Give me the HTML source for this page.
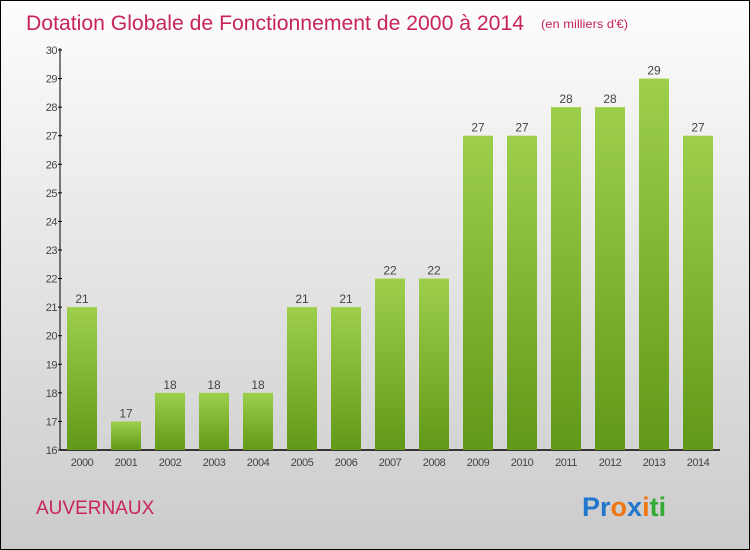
<!DOCTYPE html>
<html><head><meta charset="utf-8"><style>
body{margin:0}
svg{display:block;font-family:"Liberation Sans",sans-serif}
</style></head><body>
<svg width="750" height="550" viewBox="0 0 750 550">
<defs>
<linearGradient id="bg" x1="0" y1="0" x2="0" y2="1"><stop offset="0" stop-color="#fdfdfd"/><stop offset="1" stop-color="#cbcbcb"/></linearGradient>
<linearGradient id="bar" x1="0" y1="0" x2="0" y2="1"><stop offset="0" stop-color="#9dcf4b"/><stop offset="1" stop-color="#629818"/></linearGradient>
</defs>
<rect x="0.5" y="0.5" width="749" height="549" fill="url(#bg)" stroke="#000"/>
<text x="26" y="30" font-size="21" fill="#c8245a" textLength="498" lengthAdjust="spacingAndGlyphs">Dotation Globale de Fonctionnement de 2000 à 2014</text>
<text x="541" y="28" font-size="12" fill="#c8245a" textLength="87" lengthAdjust="spacingAndGlyphs">(en milliers d'€)</text>
<g id="axes"></g>
<g id="bars"></g>
<text x="36" y="514" font-size="19" fill="#c8245a">AUVERNAUX</text>
<text x="582" y="516" font-size="27" font-weight="bold"><tspan fill="#2277cc">Pr</tspan><tspan fill="#ee7711">o</tspan><tspan fill="#2277cc">x</tspan><tspan fill="#ee7711">i</tspan><tspan fill="#33aa33">ti</tspan></text>
</svg>
<script>
const years=["2000","2001","2002","2003","2004","2005","2006","2007","2008","2009","2010","2011","2012","2013","2014"];
const values=[21,17,18,18,18,21,21,22,22,27,27,28,28,29,27];
const yTicks=[16,17,18,19,20,21,22,23,24,25,26,27,28,29,30];
const NS="http://www.w3.org/2000/svg";
const y0=450,y1=50,vMin=16,vMax=30;
const yS=v=>y0-(v-vMin)/(vMax-vMin)*(y0-y1);
const xS=i=>82+i*44;
function mk(t,a,p){const e=document.createElementNS(NS,t);for(const k in a)e.setAttribute(k,a[k]);p.appendChild(e);return e;}
const ax=document.getElementById('axes'),bg=document.getElementById('bars');
let l=mk('line',{x1:60,y1:y0,x2:60,y2:y1-2,stroke:'#000','stroke-width':1},ax);


l=mk('line',{x1:60,y1:y0,x2:720,y2:y0,stroke:'#000','stroke-width':1.5},ax);


yTicks.forEach(v=>{
 const y=yS(v);
 const t=mk('line',{x1:58,y1:y,x2:62,y2:y,stroke:'#000'},ax);
 
 
 const tx=mk('text',{x:57,y:y+4,'font-size':11,'text-anchor':'end',fill:'#444','letter-spacing':'-0.5'},ax);
 tx.textContent=v;
 
 
});
values.forEach((v,i)=>{
 const x=xS(i);
 const r=mk('rect',{x:x-15,y:yS(v),width:30,height:y0-yS(v),fill:'url(#bar)'},bg);
 
 
 const t=mk('text',{x:x,y:yS(v)-4,'font-size':12,'text-anchor':'middle',fill:'#444'},bg);
 t.textContent=v;
 
 
 const xl=mk('text',{x:x,y:466,'font-size':11,'text-anchor':'middle',fill:'#444','letter-spacing':'-0.5'},bg);
 xl.textContent=years[i];
 
 
});
</script>
</body></html>
